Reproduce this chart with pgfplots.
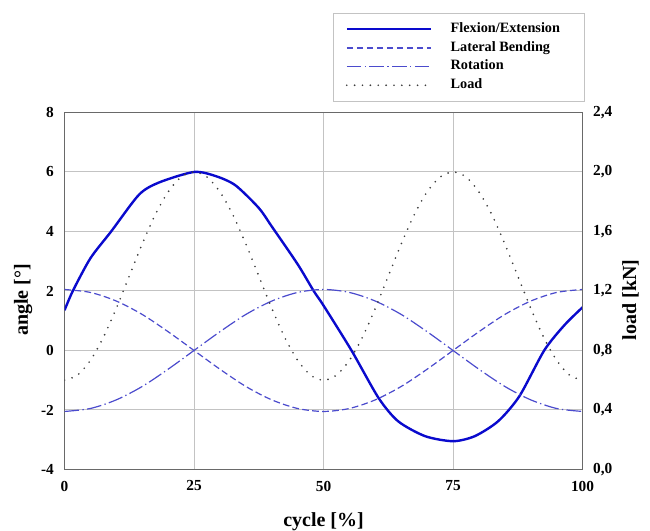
\documentclass[border=0pt]{standalone}
\usepackage{pgfplots}
\pgfplotsset{compat=1.18}
\usepackage{fontspec}
\setmainfont{Liberation Serif}
\definecolor{gridgray}{RGB}{195,195,195}
\definecolor{axisgray}{RGB}{105,105,105}
\definecolor{fxblue}{RGB}{10,10,205}
\definecolor{lbblue}{RGB}{75,75,205}
\definecolor{loadgray}{RGB}{60,60,60}

\pgfplotsset{
  common/.style={
    scale only axis, width=388.5pt, height=267.75pt,
    at={(0,0)}, anchor=south west,
    xmin=0, xmax=100,
    axis line style={line width=0.9pt, color=axisgray},
    major tick length=0pt,
    tick label style={font=\bfseries\fontsize{11.5}{13}\selectfont},
    /pgf/number format/assume math mode=true,
  },
  fx/.style={fxblue, line width=1.8pt},
  lb/.style={lbblue, line width=0.9pt, dash pattern=on 5pt off 2.5pt},
  rot/.style={lbblue, line width=0.9pt, dash pattern=on 11pt off 2.5pt on 1pt off 2.5pt},
  ld/.style={loadgray, line width=1.4pt, line cap=round, dash pattern=on 0pt off 5.9pt},
}

\begin{document}
\begin{tikzpicture}
\path[use as bounding box] (-48.4pt,-46.1pt) rectangle (439.1pt,352.1pt);
% angle axis (left)
\begin{axis}[
  common,
  ymin=-4, ymax=8,
  xtick={0,25,50,75,100}, ytick={-4,-2,0,2,4,6,8},
  ytick pos=left, xtick pos=bottom,
  grid=major, major grid style={line width=0.75pt, color=gridgray},
  xticklabel style={yshift=-5pt},
  yticklabel style={xshift=-4.5pt},
  xlabel={cycle [\%]},
  ylabel={angle [°]},
  label style={font=\bfseries\fontsize{15}{17}\selectfont},
  xlabel style={at={(axis description cs:0.5,0)}, anchor=center, yshift=-39pt},
  ylabel style={at={(axis description cs:0,0.475)}, anchor=center, yshift=31pt},
  legend image code/.code={\draw[#1] (0pt,0pt) -- (63pt,0pt); \path (75pt,0pt);},
  legend cell align=left,
  legend style={
    at={(1,1)}, anchor=south east, xshift=1.5pt, yshift=8pt,
    draw=gridgray, line width=0.75pt, fill=white,
    font=\bfseries\fontsize{10.7}{12}\selectfont,
    inner xsep=9pt, inner ysep=5pt, row sep=0pt,
    nodes={inner ysep=2pt, inner xsep=2pt, text height=7.5pt, text depth=2.5pt},
  },
]
\addplot[fx, smooth, tension=0.45] coordinates {
  (0,1.35)(1.6,2.0)(5,3.1)(9,4.0)(14.4,5.24)(18.3,5.65)(25,6.0)(29.2,5.86)(33,5.55)
  (37.5,4.79)(40,4.17)(45,2.9)(48.1,2.0)(50,1.51)(55.4,0)(60.6,-1.59)(64.4,-2.38)
  (69.6,-2.88)(75,-3.05)(79.2,-2.88)(83.7,-2.38)(87.8,-1.54)(92.6,0)(96.5,0.85)(100,1.45)
};
\addlegendentry{Flexion/Extension\kern7pt}
\addplot[lb, smooth] coordinates {
  (0,2.05)(5,1.95)(10,1.66)(15,1.21)(20,0.63)(25,0)(30,-0.63)(35,-1.21)(40,-1.66)
  (45,-1.95)(50,-2.05)(55,-1.95)(60,-1.66)(65,-1.21)(70,-0.63)(75,0)(80,0.63)
  (85,1.21)(90,1.66)(95,1.95)(100,2.05)
};
\addlegendentry{Lateral Bending}
\addplot[rot, smooth] coordinates {
  (0,-2.05)(5,-1.95)(10,-1.66)(15,-1.21)(20,-0.63)(25,0)(30,0.63)(35,1.21)(40,1.66)
  (45,1.95)(50,2.05)(55,1.95)(60,1.66)(65,1.21)(70,0.63)(75,0)(80,-0.63)
  (85,-1.21)(90,-1.66)(95,-1.95)(100,-2.05)
};
\addlegendentry{Rotation}
\addlegendimage{ld}
\addlegendentry{Load}
\end{axis}
% load axis (right)
\begin{axis}[
  common,
  ymin=0, ymax=2.4,
  ytick={0,0.4,0.8,1.2,1.6,2.0,2.4},
  axis x line=none, axis y line*=right,
  yticklabel style={xshift=4.5pt, /pgf/number format/.cd, fixed, fixed zerofill, precision=1, use comma},
  ylabel={load [kN]},
  ylabel style={font=\bfseries\fontsize{15}{17}\selectfont, at={(axis description cs:1,0.475)}, anchor=center, yshift=-36pt},
]
\addplot[ld, smooth] coordinates {
  (0,0.600)(2.5,0.634)(5,0.734)(7.5,0.888)(10,1.084)(12.5,1.300)(15,1.516)(17.5,1.712)
  (20,1.866)(22.5,1.966)(25,2.000)(27.5,1.966)(30,1.866)(32.5,1.712)(35,1.516)(37.5,1.300)
  (40,1.084)(42.5,0.888)(45,0.734)(47.5,0.634)(50,0.600)(52.5,0.634)(55,0.734)(57.5,0.888)
  (60,1.084)(62.5,1.300)(65,1.516)(67.5,1.712)(70,1.866)(72.5,1.966)(75,2.000)(77.5,1.966)
  (80,1.866)(82.5,1.712)(85,1.516)(87.5,1.300)(90,1.084)(92.5,0.888)(95,0.734)(97.5,0.634)
  (100,0.600)
};
\end{axis}
\end{tikzpicture}
\end{document}
